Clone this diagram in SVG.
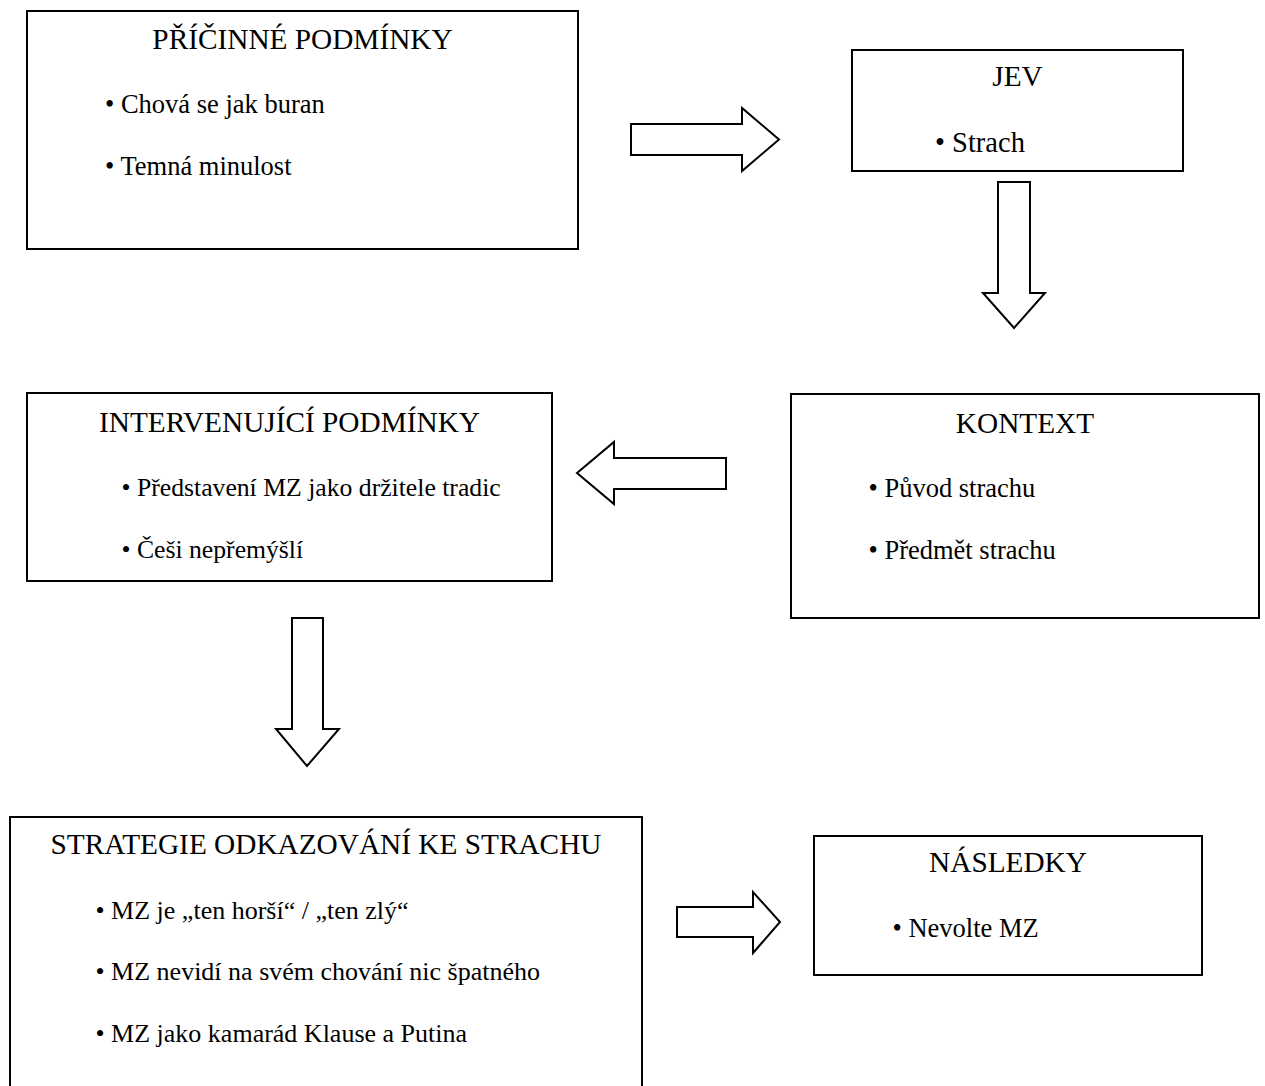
<svg xmlns="http://www.w3.org/2000/svg" width="1265" height="1086" viewBox="0 0 1265 1086">
  <style>
    .box { fill: #fff; stroke: #000; stroke-width: 2; }
    .arrow { fill: #fff; stroke: #000; stroke-width: 2; stroke-linejoin: miter; }
    .title { font-family: "Liberation Serif", "Times New Roman", serif; font-size: 29.3px; fill: #000; text-anchor: middle; }
    .item { font-family: "Liberation Serif", "Times New Roman", serif; font-size: 26.5px; fill: #000; }
  </style>
  <rect width="1265" height="1086" fill="#fff"/>

  <g id="pricinne-podminky">
    <rect class="box" x="27" y="11" width="551" height="238"/>
    <text class="title" x="302.5" y="49">PŘÍČINNÉ PODMÍNKY</text>
    <text class="item" x="105" y="112.5">• Chová se jak buran</text>
    <text class="item" x="105" y="174.5">• Temná minulost</text>
  </g>

  <g id="jev">
    <rect class="box" x="852" y="50" width="331" height="121"/>
    <text class="title" x="1017.5" y="86">JEV</text>
    <text class="item" x="935" y="152" style="font-size:28.5px">• Strach</text>
  </g>

  <g id="kontext">
    <rect class="box" x="791" y="394" width="468" height="224"/>
    <text class="title" x="1025" y="433">KONTEXT</text>
    <text class="item" x="868.5" y="497">• Původ strachu</text>
    <text class="item" x="868.5" y="559">• Předmět strachu</text>
  </g>

  <g id="intervenujici-podminky">
    <rect class="box" x="27" y="393" width="525" height="188"/>
    <text class="title" x="289.5" y="432">INTERVENUJÍCÍ PODMÍNKY</text>
    <text class="item" x="121.5" y="496" style="font-size:25.7px">• Představení MZ jako držitele tradic</text>
    <text class="item" x="121.5" y="558" style="font-size:25.7px">• Češi nepřemýšlí</text>
  </g>

  <g id="strategie">
    <rect class="box" x="10" y="817" width="632" height="290"/>
    <text class="title" x="326" y="854">STRATEGIE ODKAZOVÁNÍ KE STRACHU</text>
    <text class="item" x="95.5" y="919" style="font-size:26px">• MZ je „ten horší“ / „ten zlý“</text>
    <text class="item" x="95.5" y="980" style="font-size:26px">• MZ nevidí na svém chování nic špatného</text>
    <text class="item" x="95.5" y="1042" style="font-size:26px">• MZ jako kamarád Klause a Putina</text>
  </g>

  <g id="nasledky">
    <rect class="box" x="814" y="836" width="388" height="139"/>
    <text class="title" x="1008" y="872">NÁSLEDKY</text>
    <text class="item" x="892.5" y="937">• Nevolte MZ</text>
  </g>

  <g id="connectors">
    <!-- block arrows between stages -->
    <polygon class="arrow" points="631,124 742,124 742,108 779,139.5 742,171 742,155 631,155"/>
    <polygon class="arrow" points="998,182 1030,182 1030,293 1045,293 1014,328 983,293 998,293"/>
    <polygon class="arrow" points="726,458 614,458 614,442 577,473 614,504 614,489 726,489"/>
    <polygon class="arrow" points="292,618 323,618 323,729 339,729 307,766 276,729 292,729"/>
    <polygon class="arrow" points="677,907 753,907 753,892 780,922 753,953 753,937 677,937"/>
  </g>
</svg>
